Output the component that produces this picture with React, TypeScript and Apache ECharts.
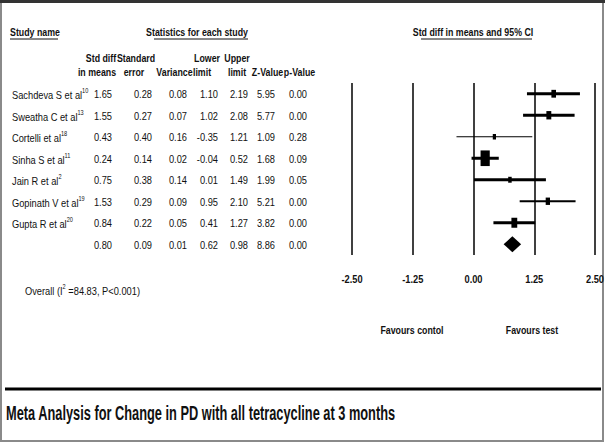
import React, { useEffect, useRef } from "react";
import * as echarts from "echarts";

// ---- data ----
const studyNames = ["Sachdeva S et al", "Sweatha C et al", "Cortelli et al", "Sinha S et al", "Jain R et al", "Gopinath V et al", "Gupta R et al", ""];
const studyRefs = ["10", "13", "18", "11", "2", "19", "20", ""];
const stdDiff = [1.65, 1.55, 0.43, 0.24, 0.75, 1.53, 0.84, 0.8];
const stdErr = [0.28, 0.27, 0.4, 0.14, 0.38, 0.29, 0.22, 0.09];
const variance = [0.08, 0.07, 0.16, 0.02, 0.14, 0.09, 0.05, 0.01];
const lowerLimit = [1.1, 1.02, -0.35, -0.04, 0.01, 0.95, 0.41, 0.62];
const upperLimit = [2.19, 2.08, 1.21, 0.52, 1.49, 2.1, 1.27, 0.98];
const zValue = [5.95, 5.77, 1.09, 1.68, 1.99, 5.21, 3.82, 8.86];
const pValue = [0.0, 0.0, 0.28, 0.09, 0.05, 0.0, 0.0, 0.0];
const xTickLabels = ["-2.50", "-1.25", "0.00", "1.25", "2.50"];
const axisMin = -2.5;
const axisMax = 2.5;
const axisStep = 1.25;
const titleText = "Meta Analysis for Change in PD with all tetracycline at 3 months";

// ---- styles ----
const FONT = "'Liberation Sans', Arial, sans-serif";
const FS = 11.6;
const SX_REG = 0.8;
const SX_BOLD = 0.76;
const ciLineWidth = [3, 3, 1, 3, 3, 2, 3];
const colRight = [112, 152, 187, 218, 248, 275, 307];

function txt(text: string, x: number, y: number, align: string, bold = false, size = FS, sx?: number) {
  return {
    type: "text",
    x,
    y,
    scaleX: sx ?? (bold ? SX_BOLD : SX_REG),
    style: {
      text,
      x: 0,
      y: 0,
      align,
      verticalAlign: "middle",
      fontFamily: FONT,
      fontSize: size,
      fontWeight: bold ? "bold" : "normal",
      fill: "#111",
    },
  };
}

function supText(main: string, sup: string, x: number, y: number, tail = "") {
  const rich = {
    n: { fontFamily: FONT, fontSize: FS, fill: "#111", lineHeight: 14, verticalAlign: "bottom" },
    s: { fontFamily: FONT, fontSize: 7, fill: "#111", lineHeight: 14, verticalAlign: "top" },
  };
  return {
    type: "text",
    x,
    y,
    scaleX: SX_REG,
    style: {
      text: `{n|${main}}{s|${sup}}` + (tail ? `{n|${tail}}` : ""),
      x: 0,
      y: 0,
      align: "left",
      verticalAlign: "middle",
      rich,
    },
  };
}

export default function App() {
  const ref = useRef<HTMLDivElement>(null);
  useEffect(() => {
    document.body.style.margin = "0";
    const chart = echarts.init(ref.current!, null, { renderer: "svg" });
    const rowIdx = stdDiff.map((_, i) => String(i));
    const cols = [stdDiff, stdErr, variance, lowerLimit, upperLimit, zValue, pValue];

    const option: any = {
      animation: false,
      backgroundColor: "#fff",
      grid: { left: 352, right: 10, top: 83, bottom: 188, containLabel: false },
      xAxis: {
        type: "value",
        min: axisMin,
        max: axisMax,
        interval: axisStep,
        axisLine: { show: false },
        axisTick: { show: false },
        axisLabel: { show: false },
        splitLine: { show: true, lineStyle: { color: "#000", width: 1.5 } },
      },
      yAxis: {
        type: "category",
        data: rowIdx,
        inverse: true,
        show: false,
      },
      series: [
        {
          type: "custom",
          clip: false,
          data: stdDiff.map((v, i) => [v, i, lowerLimit[i], upperLimit[i], variance[i]]),
          encode: { x: 0, y: 1 },
          renderItem: (params: any, api: any) => {
            const i = params.dataIndex;
            const c = api.coord([api.value(0), api.value(1)]);
            const lo = api.coord([api.value(2), api.value(1)]);
            const hi = api.coord([api.value(3), api.value(1)]);
            if (i === stdDiff.length - 1) {
              return {
                type: "polygon",
                shape: { points: [[lo[0], c[1]], [c[0], c[1] - 8], [hi[0], c[1]], [c[0], c[1] + 8]] },
                style: { fill: "#000" },
              };
            }
            const w = 1.3 * Math.sqrt(1 / api.value(4));
            const h = w * 1.7;
            return {
              type: "group",
              children: [
                {
                  type: "line",
                  shape: { x1: lo[0], y1: c[1], x2: hi[0], y2: c[1] },
                  style: { stroke: "#000", lineWidth: ciLineWidth[i] },
                },
                {
                  type: "rect",
                  shape: { x: c[0] - w / 2, y: c[1] - h / 2, width: w, height: h },
                  style: { fill: "#000" },
                },
              ],
            };
          },
        },
        {
          type: "custom",
          clip: false,
          data: stdDiff.map((_, i) => [0, i]),
          encode: { x: 0, y: 1 },
          renderItem: (params: any, api: any) => {
            const i = params.dataIndex;
            const y = api.coord([0, api.value(1)])[1];
            const children: any[] = [];
            if (studyNames[i]) children.push(supText(studyNames[i], studyRefs[i], 12, y));
            cols.forEach((arr, k) => {
              children.push(txt(arr[i].toFixed(2), colRight[k], y, "right"));
            });
            return { type: "group", children };
          },
        },
        {
          type: "custom",
          clip: false,
          data: xTickLabels.map((t) => [parseFloat(t), stdDiff.length - 1]),
          encode: { x: 0, y: 1 },
          renderItem: (params: any, api: any) => {
            const p = api.coord([api.value(0), api.value(1)]);
            return txt(xTickLabels[params.dataIndex], p[0], 279, "center", true, FS, 0.8);
          },
        },
      ],
      graphic: [
        { type: "rect", shape: { x: 1, y: 1, width: 602, height: 440 }, style: { fill: "none", stroke: "#8a8a8a", lineWidth: 2 } },
        { type: "line", shape: { x1: 0, y1: 1.5, x2: 605, y2: 1.5 }, style: { stroke: "#333", lineWidth: 3 } },
        txt("Study name", 10, 32, "left", true),
        { type: "line", shape: { x1: 10, y1: 39, x2: 58, y2: 39 }, style: { stroke: "#111", lineWidth: 1 } },
        txt("Statistics for each study", 197, 32, "center", true),
        { type: "line", shape: { x1: 154, y1: 39, x2: 248, y2: 39 }, style: { stroke: "#111", lineWidth: 1 } },
        txt("Std diff in means and 95% CI", 473, 32, "center", true),
        { type: "line", shape: { x1: 421, y1: 39, x2: 532, y2: 39 }, style: { stroke: "#111", lineWidth: 1 } },
        txt("Std diff", 101, 58, "center", true),
        txt("in means", 97, 72, "center", true),
        txt("Standard", 136, 58, "center", true),
        txt("error", 134, 72, "center", true),
        txt("Variance", 174.5, 72, "center", true),
        txt("Lower", 207, 58, "center", true),
        txt("limit", 202, 72, "center", true),
        txt("Upper", 237, 58, "center", true),
        txt("limit", 237, 72, "center", true),
        txt("Z-Value", 267.5, 72, "center", true),
        txt("p-Value", 299.5, 72, "center", true),
        supText("Overall (I", "2", 25, 290, " =84.83, P<0.001)"),
        txt("Favours contol", 412, 330, "center", true),
        txt("Favours test", 532, 330, "center", true),
        { type: "line", shape: { x1: 5, y1: 389, x2: 601, y2: 389 }, style: { stroke: "#000", lineWidth: 3 } },
        txt(titleText, 6, 413, "left", true, 20, 0.64),
      ],
    };
    chart.setOption(option);
    return () => chart.dispose();
  }, []);
  return <div ref={ref} style={{ width: 605, height: 443 }} />;
}
